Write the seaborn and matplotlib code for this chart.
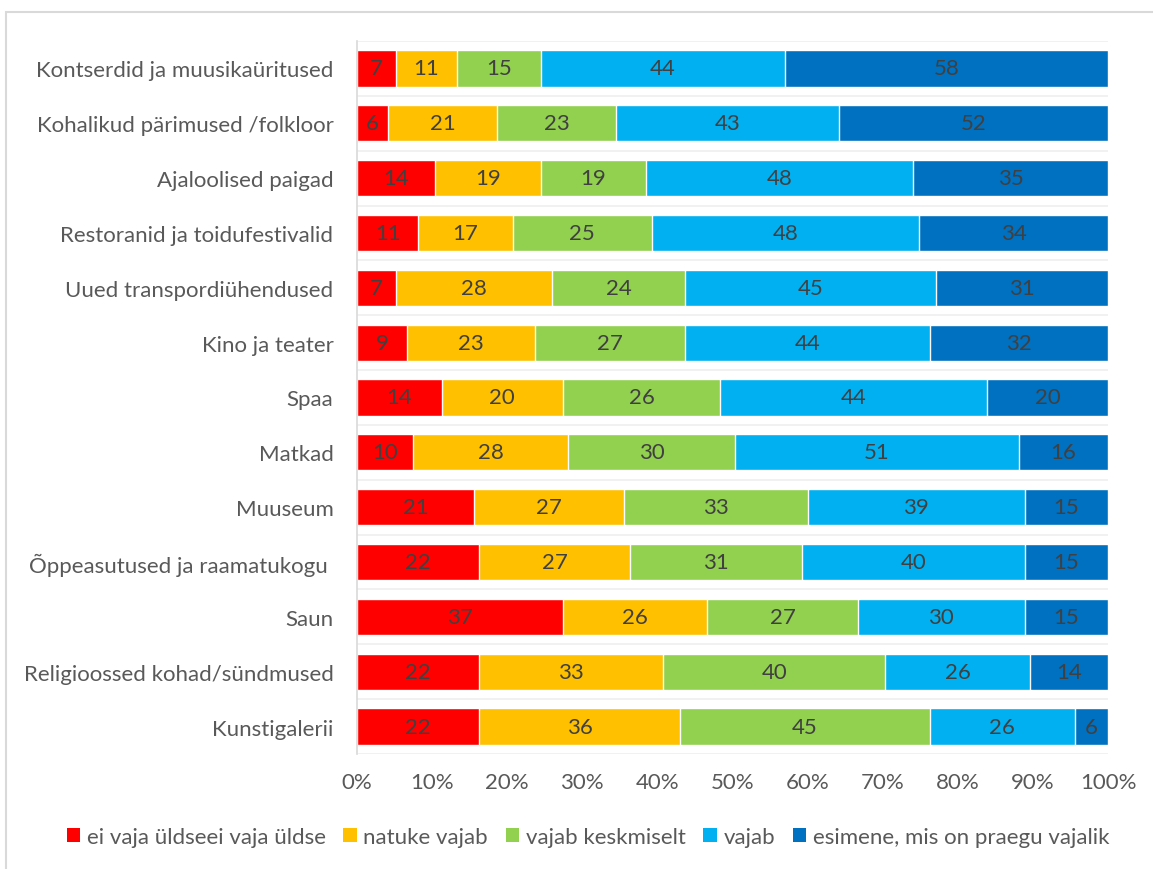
import numpy as np
import pandas as pd
import seaborn as sns
import matplotlib.pyplot as plt
from matplotlib.patches import Patch, Rectangle

categories = [
    "Kontserdid ja muusikaüritused",
    "Kohalikud pärimused /folkloor",
    "Ajaloolised paigad",
    "Restoranid ja toidufestivalid",
    "Uued transpordiühendused",
    "Kino ja teater",
    "Spaa",
    "Matkad",
    "Muuseum",
    "Õppeasutused ja raamatukogu ",
    "Saun",
    "Religioossed kohad/sündmused",
    "Kunstigalerii",
]
series_names = [
    "ei vaja üldseei vaja üldse",
    "natuke vajab",
    "vajab keskmiselt",
    "vajab",
    "esimene, mis on praegu vajalik",
]
ei_vaja = [7, 6, 14, 11, 7, 9, 14, 10, 21, 22, 37, 22, 22]
natuke = [11, 21, 19, 17, 28, 23, 20, 28, 27, 27, 26, 33, 36]
keskmiselt = [15, 23, 19, 25, 24, 27, 26, 30, 33, 31, 27, 40, 45]
vajab = [44, 43, 48, 48, 45, 44, 44, 51, 39, 40, 30, 26, 26]
esimene = [58, 52, 35, 34, 31, 32, 20, 16, 15, 15, 15, 14, 6]

colors = ["#FF0000", "#FFC000", "#92D050", "#00B0F0", "#0070C0"]

sns.set_theme(style="white")
plt.rcParams["font.family"] = ["Lato", "DejaVu Sans"]

counts = np.array([ei_vaja, natuke, keskmiselt, vajab, esimene], dtype=float)
shares = counts / counts.sum(axis=0) * 100
cum = np.cumsum(shares, axis=0)

df = pd.DataFrame({"kategooria": categories})
for i in range(5):
    df[f"cum{i}"] = cum[i]

fig = plt.figure(figsize=(11.53, 8.70), dpi=100)
ax = fig.add_axes([357 / 1153, 1 - 755 / 870, (1108 - 357) / 1153, (755 - 42) / 870])

# stacked bars: draw cumulative totals from the widest layer down
for i in range(4, -1, -1):
    sns.barplot(data=df, x=f"cum{i}", y="kategooria", color=colors[i],
                orient="h", width=0.66, saturation=1, ax=ax, zorder=2)

# value labels in segment centres
for i in range(5):
    left = cum[i] - shares[i]
    for r in range(len(categories)):
        ax.text(left[r] + shares[i][r] / 2, r, f"{int(counts[i][r])}",
                ha="center", va="center", fontsize=16, color="#404040", zorder=3)

ax.set_xlim(0, 100)
ax.set_ylim(len(categories) - 0.5, -0.5)
ax.set_xticks(np.arange(0, 101, 10))
ax.set_xticklabels([f"{v}%" for v in range(0, 101, 10)])
ax.set_xlabel("")
ax.set_ylabel("")
ax.set_yticks(range(len(categories)))
ax.set_yticklabels(categories)
ax.set_yticks(np.arange(-0.5, len(categories), 1), minor=True)
ax.grid(which="minor", axis="y", color="#EFEFEF", linewidth=1.2, zorder=0)
ax.grid(which="major", axis="both", visible=False)
ax.tick_params(axis="both", which="both", length=0, labelsize=16, labelcolor="#595959")
ax.tick_params(axis="y", pad=17)
ax.tick_params(axis="x", pad=13)
for s in ["top", "right", "bottom"]:
    ax.spines[s].set_visible(False)
ax.spines["left"].set_color("#D9D9D9")
ax.spines["left"].set_linewidth(1.2)

handles = [Patch(facecolor=c, edgecolor="none") for c in colors]
fig.legend(handles, series_names, loc="center", bbox_to_anchor=(588 / 1153, 1 - 838 / 870),
           ncol=5, frameon=False, fontsize=16, handlelength=0.6, handleheight=0.6,
           handletextpad=0.3, columnspacing=0.8, labelcolor="#595959")

# chart area border
fig.patches.append(Rectangle((6 / 1153, -0.1), 1.2, 1 - 13 / 870 + 0.1, transform=fig.transFigure,
                             fill=False, edgecolor="#D9D9D9", linewidth=1.5))

fig.savefig("out.png", dpi=100)
